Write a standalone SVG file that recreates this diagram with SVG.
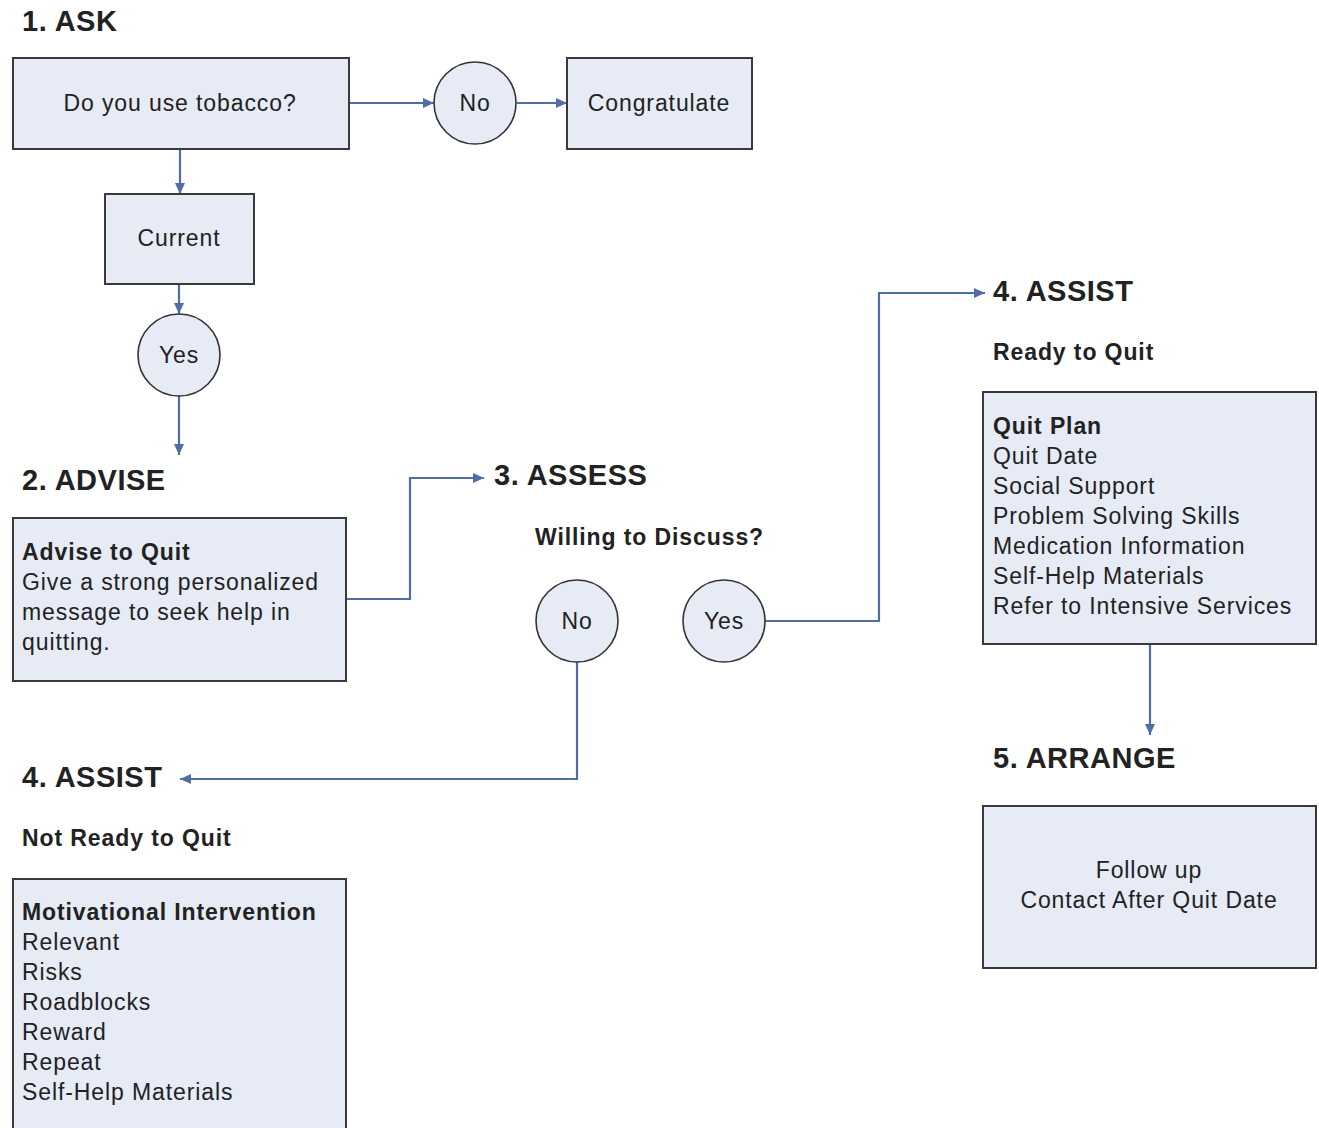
<svg xmlns="http://www.w3.org/2000/svg" width="1319" height="1128" viewBox="0 0 1319 1128">
<style>
text{font-family:"Liberation Sans",Arial,sans-serif;fill:#222;}
.h{font-size:29px;font-weight:bold;letter-spacing:0.5px;}
.t{font-size:23px;letter-spacing:0.9px;}
.b{font-weight:bold;}
.c{text-anchor:middle;}
.box{fill:#e6ebf6;stroke:#3a3a3a;stroke-width:2;}
.circ{fill:#e6ebf6;stroke:#333;stroke-width:1.6;}
.con{fill:none;stroke:#4f6ea8;stroke-width:2.2;marker-end:url(#ah);}
</style>
<defs>
<marker id="ah" markerUnits="userSpaceOnUse" markerWidth="12" markerHeight="12" viewBox="0 0 12 12" refX="11" refY="6" orient="auto">
<path d="M0,1 L11,6 L0,11 Z" fill="#4f6ea8"/>
</marker>
</defs>
<rect width="1319" height="1128" fill="#fff"/>
<g id="connectors">
<path class="con" d="M349,103 H434"/>
<path class="con" d="M517,103 H567"/>
<path class="con" d="M180,149 V194"/>
<path class="con" d="M179,284 V314"/>
<path class="con" d="M179,396 V455"/>
<path class="con" d="M346,599 H410 V478 H484"/>
<path class="con" d="M765,621 H879 V293 H985"/>
<path class="con" d="M577,662 V779 H180"/>
<path class="con" d="M1150,644 V735"/>
</g>
<g id="label-ask"><text class="h" x="22" y="31">1. ASK</text></g>
<g id="node-tobacco"><rect class="box" x="13" y="58" width="336" height="91"/><text class="t c" x="180" y="111">Do you use tobacco?</text></g>
<g id="node-no1"><circle class="circ" cx="475" cy="103" r="41"/><text class="t c" x="475" y="111">No</text></g>
<g id="node-congratulate"><rect class="box" x="567" y="58" width="185" height="91"/><text class="t c" x="659" y="111">Congratulate</text></g>
<g id="node-current"><rect class="box" x="105" y="194" width="149" height="90"/><text class="t c" x="179" y="246">Current</text></g>
<g id="node-yes1"><circle class="circ" cx="179" cy="355" r="41"/><text class="t c" x="179" y="363">Yes</text></g>
<g id="label-advise"><text class="h" x="22" y="490">2. ADVISE</text></g>
<g id="node-advise"><rect class="box" x="13" y="518" width="333" height="163"/>
<text class="t" x="22" y="560"><tspan class="b">Advise to Quit</tspan><tspan x="22" dy="30">Give a strong personalized</tspan><tspan x="22" dy="30">message to seek help in</tspan><tspan x="22" dy="30">quitting.</tspan></text></g>
<g id="label-assess"><text class="h" x="494" y="485">3. ASSESS</text></g>
<g id="label-willing"><text class="t b" x="535" y="545">Willing to Discuss?</text></g>
<g id="node-no2"><circle class="circ" cx="577" cy="621" r="41"/><text class="t c" x="577" y="629">No</text></g>
<g id="node-yes2"><circle class="circ" cx="724" cy="621" r="41"/><text class="t c" x="724" y="629">Yes</text></g>
<g id="label-assist-ready"><text class="h" x="993" y="301">4. ASSIST</text><text class="t b" x="993" y="360">Ready to Quit</text></g>
<g id="node-quitplan"><rect class="box" x="983" y="392" width="333" height="252"/>
<text class="t" x="993" y="434"><tspan class="b">Quit Plan</tspan><tspan x="993" dy="30">Quit Date</tspan><tspan x="993" dy="30">Social Support</tspan><tspan x="993" dy="30">Problem Solving Skills</tspan><tspan x="993" dy="30">Medication Information</tspan><tspan x="993" dy="30">Self-Help Materials</tspan><tspan x="993" dy="30">Refer to Intensive Services</tspan></text></g>
<g id="label-arrange"><text class="h" x="993" y="768">5. ARRANGE</text></g>
<g id="node-followup"><rect class="box" x="983" y="806" width="333" height="162"/>
<text class="t c" x="1149" y="878">Follow up<tspan x="1149" dy="30">Contact After Quit Date</tspan></text></g>
<g id="label-assist-notready"><text class="h" x="22" y="787">4. ASSIST</text><text class="t b" x="22" y="846">Not Ready to Quit</text></g>
<g id="node-motivational"><rect class="box" x="13" y="879" width="333" height="260"/>
<text class="t" x="22" y="920"><tspan class="b">Motivational Intervention</tspan><tspan x="22" dy="30">Relevant</tspan><tspan x="22" dy="30">Risks</tspan><tspan x="22" dy="30">Roadblocks</tspan><tspan x="22" dy="30">Reward</tspan><tspan x="22" dy="30">Repeat</tspan><tspan x="22" dy="30">Self-Help Materials</tspan></text></g>
</svg>
